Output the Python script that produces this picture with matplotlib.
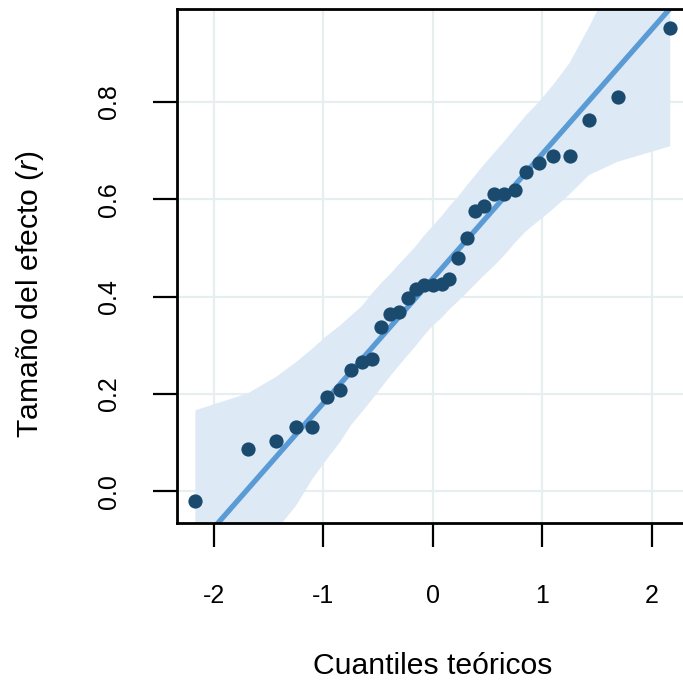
"""Q-Q plot of effect sizes (r) against theoretical normal quantiles, with envelope."""

import matplotlib

matplotlib.use("Agg")
import matplotlib.pyplot as plt

# theoretical quantiles (x) and sorted effect sizes (y)
quantiles = [
    -2.17, -1.69, -1.43, -1.25, -1.10, -0.97, -0.85, -0.75, -0.65, -0.56, -0.47,
    -0.39, -0.31, -0.23, -0.15, -0.08, 0.00, 0.08, 0.15, 0.23, 0.31, 0.39,
    0.47, 0.56, 0.65, 0.75, 0.85, 0.97, 1.10, 1.25, 1.43, 1.69, 2.17,
]
effect_r = [
    -0.020, 0.087, 0.103, 0.131, 0.132, 0.193, 0.208, 0.249, 0.265, 0.272, 0.338,
    0.364, 0.368, 0.396, 0.415, 0.423, 0.424, 0.425, 0.435, 0.480, 0.520, 0.576,
    0.586, 0.610, 0.610, 0.619, 0.655, 0.675, 0.688, 0.688, 0.762, 0.811, 0.952,
]
# confidence envelope at the same quantiles
band_upper = [
    0.166, 0.201, 0.235, 0.265, 0.293, 0.319, 0.340, 0.360, 0.380, 0.405, 0.428,
    0.446, 0.466, 0.485, 0.505, 0.525, 0.545, 0.565, 0.585, 0.605, 0.628, 0.650,
    0.672, 0.695, 0.718, 0.745, 0.772, 0.800, 0.835, 0.880, 0.955, 1.070, 1.250,
]
band_lower = [
    -0.300, -0.150, -0.080, -0.030, 0.025, 0.065, 0.100, 0.135, 0.162, 0.187, 0.213,
    0.236, 0.258, 0.279, 0.300, 0.320, 0.340, 0.356, 0.373, 0.390, 0.408, 0.426,
    0.444, 0.463, 0.484, 0.510, 0.534, 0.556, 0.580, 0.610, 0.650, 0.677, 0.709,
]
# reference line (through the quartiles)
line_intercept = 0.437
line_slope = 0.256

x_ticks = [-2, -1, 0, 1, 2]
y_ticks = [0.0, 0.2, 0.4, 0.6, 0.8]

POINT_COLOR = "#1b4a6f"
LINE_COLOR = "#5b9bd5"
BAND_COLOR = "#dde9f5"
GRID_COLOR = "#e6eef0"

plt.rcParams["font.family"] = ["Liberation Sans", "DejaVu Sans"]
plt.rcParams["mathtext.fontset"] = "custom"
plt.rcParams["mathtext.it"] = "Liberation Sans:italic"
plt.rcParams["mathtext.rm"] = "Liberation Sans"

fig = plt.figure(figsize=(6.83, 6.83), dpi=100)
ax = fig.add_axes([0.2587, 0.2347, 0.750, 0.7521])

ax.set_xlim(-2.341, 2.341)
ax.set_ylim(-0.065, 0.991)

ax.set_axisbelow(True)
ax.grid(True, color=GRID_COLOR, linewidth=1.6)

ax.fill_between(quantiles, band_lower, band_upper, color=BAND_COLOR, linewidth=0, zorder=1)
ax.axline((0, line_intercept), slope=line_slope, color=LINE_COLOR, linewidth=3.8, zorder=2)
ax.scatter(quantiles, effect_r, s=105, color=POINT_COLOR, linewidths=0, zorder=3)

ax.set_xticks(x_ticks)
ax.set_xticklabels([str(t) for t in x_ticks])
ax.set_yticks(y_ticks)
ax.set_yticklabels([f"{t:.1f}" for t in y_ticks], rotation=90, va="center")

for side in ("top", "left", "bottom", "right"):
    ax.spines[side].set_linewidth(2.0)
    ax.spines[side].set_color("black")

ax.tick_params(axis="both", length=17, width=1.6, labelsize=18, color="black")
ax.tick_params(axis="x", pad=27)
ax.tick_params(axis="y", pad=23)

ax.set_xlabel("Cuantiles teóricos", fontsize=21.7, va="center")
ax.xaxis.set_label_coords(0.5, -0.279)
ax.set_ylabel("Tamaño del efecto ($\\mathit{r}$)", fontsize=21.7, va="center", ha="center")
ax.yaxis.set_label_coords(-0.2863, 0.446)

fig.savefig("out.png", dpi=100)
